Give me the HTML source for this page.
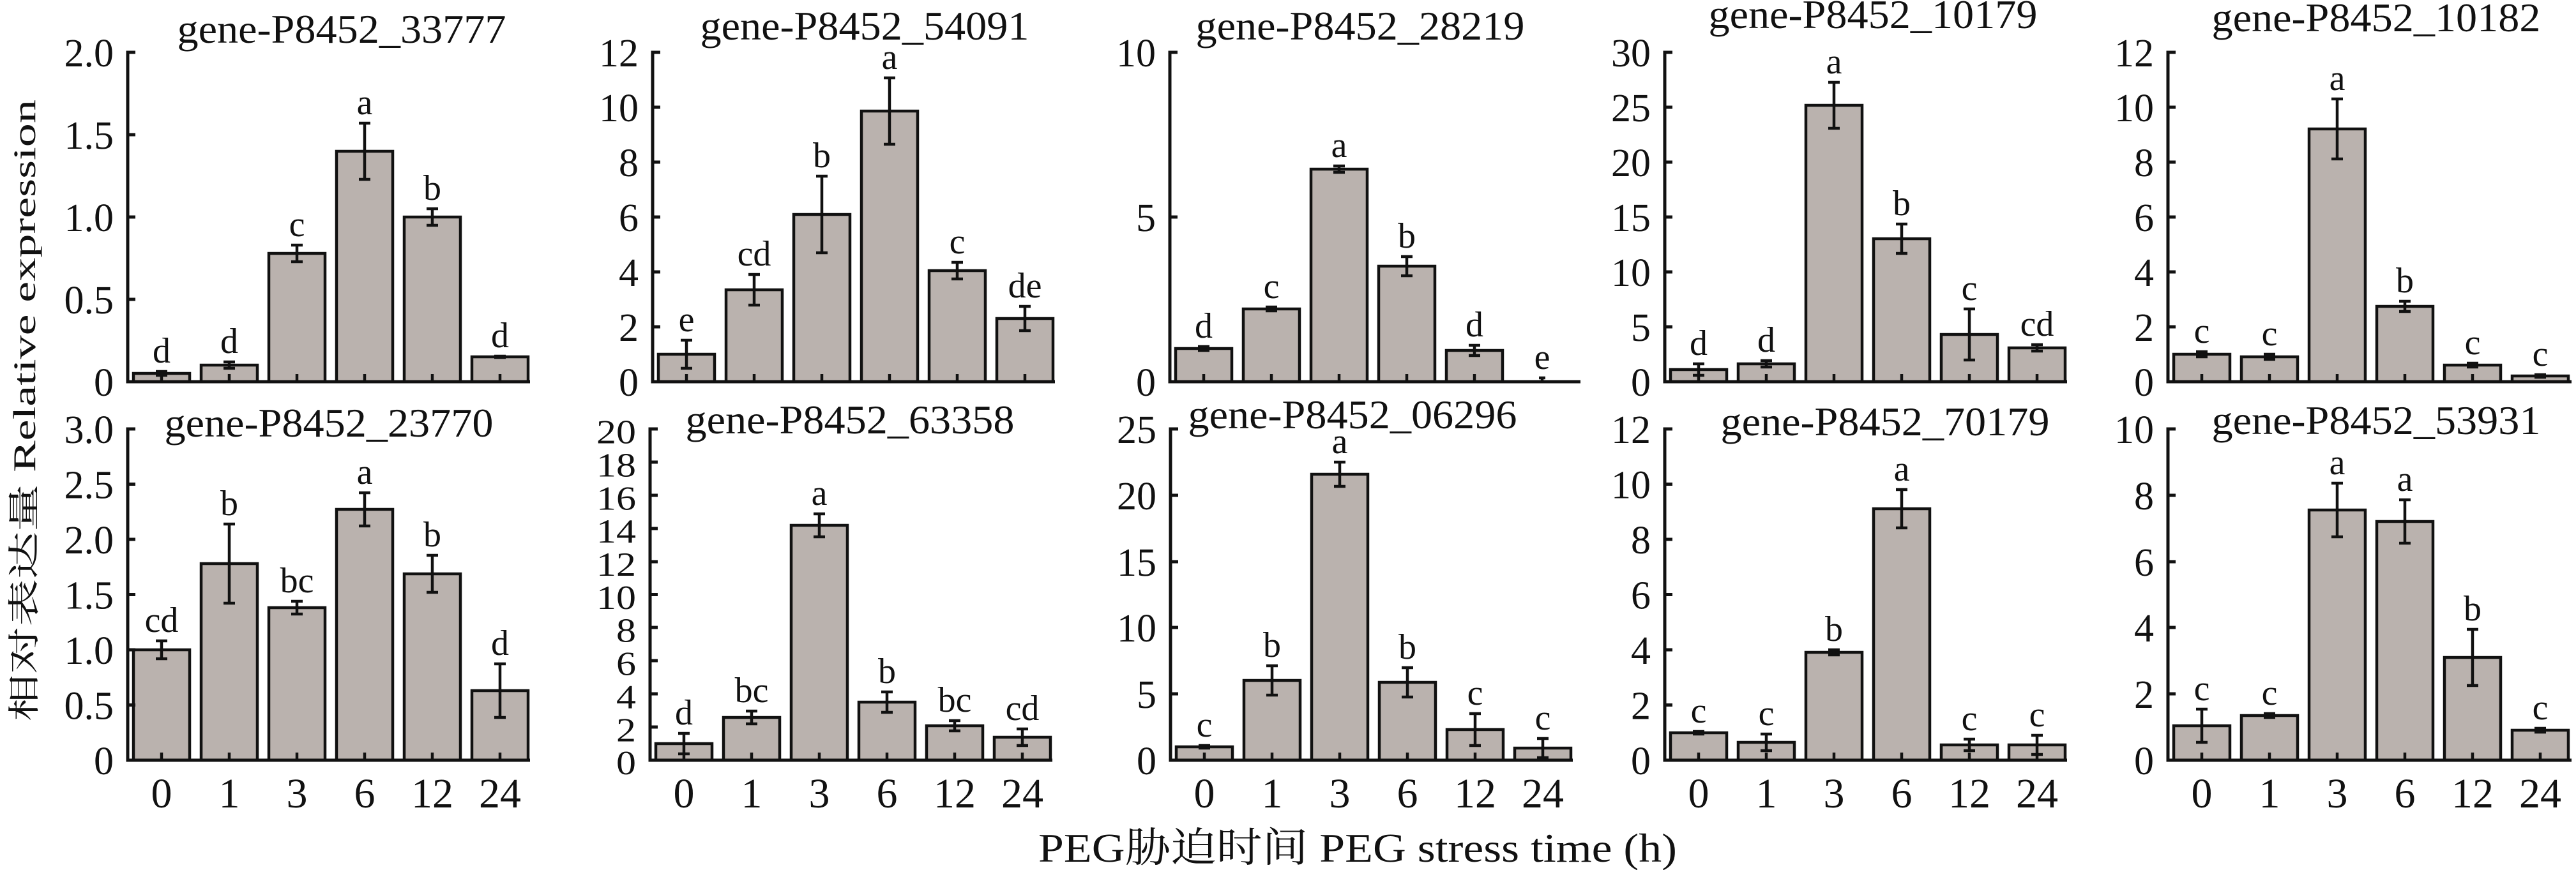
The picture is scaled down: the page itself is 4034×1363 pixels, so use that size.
<!DOCTYPE html>
<html><head><meta charset="utf-8"><style>
html,body{margin:0;padding:0;background:#fff;}
svg{display:block;}
text{font-family:"Liberation Serif","Noto Serif CJK SC","Noto Sans CJK SC",serif;fill:#111;}
.t{font-size:62px;text-anchor:end;}
.x{font-size:66px;text-anchor:middle;}
.l{font-size:56px;text-anchor:middle;}
.ti{font-size:64px;text-anchor:middle;}
.ax{fill:none;stroke:#111;stroke-width:5;}
.b rect{fill:#bab2ae;stroke:#111;stroke-width:4.5;}
.e{fill:none;stroke:#111;stroke-width:4.5;}
</style></head><body>
<svg width="4034" height="1363" viewBox="0 0 4034 1363" xmlns="http://www.w3.org/2000/svg">
<text transform="translate(55,1130) rotate(-90)" font-size="50" textLength="974" lengthAdjust="spacingAndGlyphs">相对表达量 Relative expression</text>
<text x="1626" y="1350" font-size="64" textLength="1000" lengthAdjust="spacingAndGlyphs">PEG胁迫时间 PEG stress time (h)</text>

<text class="ti" x="535" y="67" textLength="515" lengthAdjust="spacingAndGlyphs">gene-P8452_33777</text>
<text class="ti" x="1354" y="62" textLength="515" lengthAdjust="spacingAndGlyphs">gene-P8452_54091</text>
<text class="ti" x="2130" y="62" textLength="515" lengthAdjust="spacingAndGlyphs">gene-P8452_28219</text>
<text class="ti" x="2933" y="44" textLength="515" lengthAdjust="spacingAndGlyphs">gene-P8452_10179</text>
<text class="ti" x="3721" y="49" textLength="515" lengthAdjust="spacingAndGlyphs">gene-P8452_10182</text>
<text class="ti" x="515" y="684" textLength="515" lengthAdjust="spacingAndGlyphs">gene-P8452_23770</text>
<text class="ti" x="1331" y="679" textLength="515" lengthAdjust="spacingAndGlyphs">gene-P8452_63358</text>
<text class="ti" x="2118" y="671" textLength="515" lengthAdjust="spacingAndGlyphs">gene-P8452_06296</text>
<text class="ti" x="2952" y="682" textLength="515" lengthAdjust="spacingAndGlyphs">gene-P8452_70179</text>
<text class="ti" x="3721" y="680" textLength="515" lengthAdjust="spacingAndGlyphs">gene-P8452_53931</text>

<!-- P1 -->
<g transform="translate(200,598)">
<g class="b"><rect x="9" y="-13" width="88" height="13"/><rect x="115" y="-26" width="88" height="26"/><rect x="221" y="-201" width="88" height="201"/><rect x="327" y="-361" width="88" height="361"/><rect x="433" y="-258" width="88" height="258"/><rect x="539" y="-39" width="88" height="39"/></g>
<path class="e" d="M44 -16h18M53 -16V-10M44 -10h18 M150 -31h18M159 -31V-21M150 -21h18 M256 -214h18M265 -214V-188M256 -188h18 M362 -405h18M371 -405V-317M362 -317h18 M468 -271h18M477 -271V-245M468 -245h18 M574 -40h18M574 -38h18 M53 0v-12M159 0v-12M265 0v-12M371 0v-12M477 0v-12M583 0v-12"/>
<text class="l" x="53" y="-30">d</text><text class="l" x="159" y="-45">d</text><text class="l" x="265" y="-228">c</text><text class="l" x="371" y="-419">a</text><text class="l" x="477" y="-285">b</text><text class="l" x="583" y="-54">d</text>
<path class="ax" d="M12 -516H0V0H630 M0 -387h12M0 -258h12M0 -129h12"/>
<text class="t" x="-22" y="22">0</text><text class="t" x="-22" y="-107">0.5</text><text class="t" x="-22" y="-236">1.0</text><text class="t" x="-22" y="-365">1.5</text><text class="t" x="-22" y="-494">2.0</text>
</g>

<!-- P2 -->
<g transform="translate(1022,598)">
<g class="b"><rect x="9" y="-43" width="88" height="43"/><rect x="115" y="-144" width="88" height="144"/><rect x="221" y="-262" width="88" height="262"/><rect x="327" y="-424" width="88" height="424"/><rect x="433" y="-174" width="88" height="174"/><rect x="539" y="-99" width="88" height="99"/></g>
<path class="e" d="M44 -65h18M53 -65V-21M44 -21h18 M150 -168h18M159 -168V-120M150 -120h18 M256 -322h18M265 -322V-202M256 -202h18 M362 -476h18M371 -476V-372M362 -372h18 M468 -187h18M477 -187V-161M468 -161h18 M574 -118h18M583 -118V-80M574 -80h18 M53 0v-12M159 0v-12M265 0v-12M371 0v-12M477 0v-12M583 0v-12"/>
<text class="l" x="53" y="-79">e</text><text class="l" x="159" y="-182">cd</text><text class="l" x="265" y="-336">b</text><text class="l" x="371" y="-490">a</text><text class="l" x="477" y="-201">c</text><text class="l" x="583" y="-132">de</text>
<path class="ax" d="M12 -516H0V0H630 M0 -430h12M0 -344h12M0 -258h12M0 -172h12M0 -86h12"/>
<text class="t" x="-22" y="22">0</text><text class="t" x="-22" y="-64">2</text><text class="t" x="-22" y="-150">4</text><text class="t" x="-22" y="-236">6</text><text class="t" x="-22" y="-322">8</text><text class="t" x="-22" y="-408">10</text><text class="t" x="-22" y="-494">12</text>
</g>

<!-- P3 -->
<g transform="translate(1832,598)">
<g class="b"><rect x="9" y="-52" width="88" height="52"/><rect x="115" y="-114" width="88" height="114"/><rect x="221" y="-333" width="88" height="333"/><rect x="327" y="-181" width="88" height="181"/><rect x="433" y="-49" width="88" height="49"/></g>
<path class="e" d="M44 -55h18M44 -49h18 M150 -117h18M150 -111h18 M256 -338h18M265 -338V-328M256 -328h18 M362 -196h18M371 -196V-166M362 -166h18 M468 -57h18M477 -57V-41M468 -41h18 M578 -6h10M583 -6V0 M53 0v-12M159 0v-12M265 0v-12M371 0v-12M477 0v-12"/>
<text class="l" x="53" y="-69">d</text><text class="l" x="159" y="-131">c</text><text class="l" x="265" y="-352">a</text><text class="l" x="371" y="-210">b</text><text class="l" x="477" y="-71">d</text><text class="l" x="583" y="-20">e</text>
<path class="ax" d="M12 -516H0V0H643 M0 -258h12"/>
<text class="t" x="-22" y="22">0</text><text class="t" x="-22" y="-236">5</text><text class="t" x="-22" y="-494">10</text>
</g>

<!-- P4 -->
<g transform="translate(2607,598)">
<g class="b"><rect x="9" y="-19" width="88" height="19"/><rect x="115" y="-28" width="88" height="28"/><rect x="221" y="-433" width="88" height="433"/><rect x="327" y="-224" width="88" height="224"/><rect x="433" y="-74" width="88" height="74"/><rect x="539" y="-53" width="88" height="53"/></g>
<path class="e" d="M44 -28h18M53 -28V-10M44 -10h18 M150 -33h18M159 -33V-23M150 -23h18 M256 -469h18M265 -469V-397M256 -397h18 M362 -247h18M371 -247V-201M362 -201h18 M468 -114h18M477 -114V-34M468 -34h18 M574 -58h18M583 -58V-48M574 -48h18 M53 0v-12M159 0v-12M265 0v-12M371 0v-12M477 0v-12M583 0v-12"/>
<text class="l" x="53" y="-42">d</text><text class="l" x="159" y="-47">d</text><text class="l" x="265" y="-483">a</text><text class="l" x="371" y="-261">b</text><text class="l" x="477" y="-128">c</text><text class="l" x="583" y="-72">cd</text>
<path class="ax" d="M12 -516H0V0H630 M0 -430h12M0 -344h12M0 -258h12M0 -172h12M0 -86h12"/>
<text class="t" x="-22" y="22">0</text><text class="t" x="-22" y="-64">5</text><text class="t" x="-22" y="-150">10</text><text class="t" x="-22" y="-236">15</text><text class="t" x="-22" y="-322">20</text><text class="t" x="-22" y="-408">25</text><text class="t" x="-22" y="-494">30</text>
</g>

<!-- P5 -->
<g transform="translate(3395,598)">
<g class="b"><rect x="9" y="-43" width="88" height="43"/><rect x="115" y="-39" width="88" height="39"/><rect x="221" y="-396" width="88" height="396"/><rect x="327" y="-118" width="88" height="118"/><rect x="433" y="-26" width="88" height="26"/><rect x="539" y="-9" width="88" height="9"/></g>
<path class="e" d="M44 -47h18M53 -47V-39M44 -39h18 M150 -43h18M159 -43V-35M150 -35h18 M256 -443h18M265 -443V-349M256 -349h18 M362 -126h18M371 -126V-110M362 -110h18 M468 -29h18M468 -23h18 M574 -11h18M574 -7h18 M53 0v-12M159 0v-12M265 0v-12M371 0v-12M477 0v-12"/>
<text class="l" x="53" y="-61">c</text><text class="l" x="159" y="-57">c</text><text class="l" x="265" y="-457">a</text><text class="l" x="371" y="-140">b</text><text class="l" x="477" y="-43">c</text><text class="l" x="583" y="-25">c</text>
<path class="ax" d="M12 -516H0V0H632 M0 -430h12M0 -344h12M0 -258h12M0 -172h12M0 -86h12"/>
<text class="t" x="-22" y="22">0</text><text class="t" x="-22" y="-64">2</text><text class="t" x="-22" y="-150">4</text><text class="t" x="-22" y="-236">6</text><text class="t" x="-22" y="-322">8</text><text class="t" x="-22" y="-408">10</text><text class="t" x="-22" y="-494">12</text>
</g>

<!-- P6 -->
<g transform="translate(200,1191)">
<g class="b"><rect x="9" y="-173" width="88" height="173"/><rect x="115" y="-308" width="88" height="308"/><rect x="221" y="-239" width="88" height="239"/><rect x="327" y="-393" width="88" height="393"/><rect x="433" y="-292" width="88" height="292"/><rect x="539" y="-109" width="88" height="109"/></g>
<path class="e" d="M44 -187h18M53 -187V-159M44 -159h18 M150 -370h18M159 -370V-246M150 -246h18 M256 -249h18M265 -249V-229M256 -229h18 M362 -419h18M371 -419V-367M362 -367h18 M468 -321h18M477 -321V-263M468 -263h18 M574 -151h18M583 -151V-67M574 -67h18 M53 0v-12M159 0v-12M265 0v-12M371 0v-12M477 0v-12M583 0v-12"/>
<text class="l" x="53" y="-201">cd</text><text class="l" x="159" y="-384">b</text><text class="l" x="265" y="-263">bc</text><text class="l" x="371" y="-433">a</text><text class="l" x="477" y="-335">b</text><text class="l" x="583" y="-165">d</text>
<path class="ax" d="M12 -519H0V0H630 M0 -432.5h12M0 -346h12M0 -259.5h12M0 -173h12M0 -86.5h12"/>
<text class="t" x="-22" y="22">0</text><text class="t" x="-22" y="-64.5">0.5</text><text class="t" x="-22" y="-151">1.0</text><text class="t" x="-22" y="-237.5">1.5</text><text class="t" x="-22" y="-324">2.0</text><text class="t" x="-22" y="-410.5">2.5</text><text class="t" x="-22" y="-497">3.0</text>
<text class="x" x="53" y="74">0</text><text class="x" x="159" y="74">1</text><text class="x" x="265" y="74">3</text><text class="x" x="371" y="74">6</text><text class="x" x="477" y="74">12</text><text class="x" x="583" y="74">24</text>
</g>

<!-- P7 -->
<g transform="translate(1018,1191)">
<g class="b"><rect x="9" y="-26" width="88" height="26"/><rect x="115" y="-67" width="88" height="67"/><rect x="221" y="-368" width="88" height="368"/><rect x="327" y="-91" width="88" height="91"/><rect x="433" y="-54" width="88" height="54"/><rect x="539" y="-36" width="88" height="36"/></g>
<path class="e" d="M44 -42h18M53 -42V-10M44 -10h18 M150 -77h18M159 -77V-57M150 -57h18 M256 -386h18M265 -386V-350M256 -350h18 M362 -107h18M371 -107V-75M362 -75h18 M468 -62h18M477 -62V-46M468 -46h18 M574 -49h18M583 -49V-23M574 -23h18 M53 0v-12M159 0v-12M265 0v-12M371 0v-12M477 0v-12M583 0v-12"/>
<text class="l" x="53" y="-56">d</text><text class="l" x="159" y="-91">bc</text><text class="l" x="265" y="-400">a</text><text class="l" x="371" y="-121">b</text><text class="l" x="477" y="-76">bc</text><text class="l" x="583" y="-63">cd</text>
<path class="ax" d="M12 -519H0V0H630 M0 -467h12M0 -415h12M0 -363h12M0 -311h12M0 -259.5h12M0 -208h12M0 -156h12M0 -104h12M0 -52h12"/>
<g transform="scale(1,0.85)"><text class="t" x="-22" y="26">0</text><text class="t" x="-22" y="-35">2</text><text class="t" x="-22" y="-96">4</text><text class="t" x="-22" y="-157">6</text><text class="t" x="-22" y="-218">8</text><text class="t" x="-22" y="-279">10</text><text class="t" x="-22" y="-340">12</text><text class="t" x="-22" y="-401">14</text><text class="t" x="-22" y="-462">16</text><text class="t" x="-22" y="-523">18</text><text class="t" x="-22" y="-584">20</text></g>
<text class="x" x="53" y="74">0</text><text class="x" x="159" y="74">1</text><text class="x" x="265" y="74">3</text><text class="x" x="371" y="74">6</text><text class="x" x="477" y="74">12</text><text class="x" x="583" y="74">24</text>
</g>

<!-- P8 -->
<g transform="translate(1833,1191)">
<g class="b"><rect x="9" y="-21" width="88" height="21"/><rect x="115" y="-125" width="88" height="125"/><rect x="221" y="-448" width="88" height="448"/><rect x="327" y="-122" width="88" height="122"/><rect x="433" y="-48" width="88" height="48"/><rect x="539" y="-19" width="88" height="19"/></g>
<path class="e" d="M44 -23h18M44 -19h18 M150 -148h18M159 -148V-102M150 -102h18 M256 -467h18M265 -467V-429M256 -429h18 M362 -145h18M371 -145V-99M362 -99h18 M468 -73h18M477 -73V-23M468 -23h18 M574 -34h18M583 -34V-4M574 -4h18 M53 0v-12M159 0v-12M265 0v-12M371 0v-12M477 0v-12M583 0v-12"/>
<text class="l" x="53" y="-37">c</text><text class="l" x="159" y="-162">b</text><text class="l" x="265" y="-481">a</text><text class="l" x="371" y="-159">b</text><text class="l" x="477" y="-87">c</text><text class="l" x="583" y="-48">c</text>
<path class="ax" d="M12 -519H0V0H630 M0 -415h12M0 -311h12M0 -208h12M0 -104h12"/>
<text class="t" x="-22" y="22">0</text><text class="t" x="-22" y="-82">5</text><text class="t" x="-22" y="-186">10</text><text class="t" x="-22" y="-289">15</text><text class="t" x="-22" y="-393">20</text><text class="t" x="-22" y="-497">25</text>
<text class="x" x="53" y="74">0</text><text class="x" x="159" y="74">1</text><text class="x" x="265" y="74">3</text><text class="x" x="371" y="74">6</text><text class="x" x="477" y="74">12</text><text class="x" x="583" y="74">24</text>
</g>

<!-- P9 -->
<g transform="translate(2607,1191)">
<g class="b"><rect x="9" y="-43" width="88" height="43"/><rect x="115" y="-28" width="88" height="28"/><rect x="221" y="-169" width="88" height="169"/><rect x="327" y="-394" width="88" height="394"/><rect x="433" y="-24" width="88" height="24"/><rect x="539" y="-24" width="88" height="24"/></g>
<path class="e" d="M44 -45h18M44 -41h18 M150 -41h18M159 -41V-15M150 -15h18 M256 -173h18M265 -173V-165M256 -165h18 M362 -424h18M371 -424V-364M362 -364h18 M468 -33h18M477 -33V-15M468 -15h18 M574 -39h18M583 -39V-9M574 -9h18 M53 0v-12M159 0v-12M265 0v-12M371 0v-12M477 0v-12M583 0v-12"/>
<text class="l" x="53" y="-59">c</text><text class="l" x="159" y="-55">c</text><text class="l" x="265" y="-187">b</text><text class="l" x="371" y="-438">a</text><text class="l" x="477" y="-47">c</text><text class="l" x="583" y="-53">c</text>
<path class="ax" d="M12 -519H0V0H630 M0 -432.5h12M0 -346h12M0 -259.5h12M0 -173h12M0 -86.5h12"/>
<text class="t" x="-22" y="22">0</text><text class="t" x="-22" y="-64.5">2</text><text class="t" x="-22" y="-151">4</text><text class="t" x="-22" y="-237.5">6</text><text class="t" x="-22" y="-324">8</text><text class="t" x="-22" y="-410.5">10</text><text class="t" x="-22" y="-497">12</text>
<text class="x" x="53" y="74">0</text><text class="x" x="159" y="74">1</text><text class="x" x="265" y="74">3</text><text class="x" x="371" y="74">6</text><text class="x" x="477" y="74">12</text><text class="x" x="583" y="74">24</text>
</g>

<!-- P10 -->
<g transform="translate(3395,1191)">
<g class="b"><rect x="9" y="-54" width="88" height="54"/><rect x="115" y="-70" width="88" height="70"/><rect x="221" y="-392" width="88" height="392"/><rect x="327" y="-374" width="88" height="374"/><rect x="433" y="-161" width="88" height="161"/><rect x="539" y="-47" width="88" height="47"/></g>
<path class="e" d="M44 -80h18M53 -80V-28M44 -28h18 M150 -73h18M150 -67h18 M256 -434h18M265 -434V-350M256 -350h18 M362 -408h18M371 -408V-340M362 -340h18 M468 -205h18M477 -205V-117M468 -117h18 M574 -50h18M574 -44h18 M53 0v-12M159 0v-12M265 0v-12M371 0v-12M477 0v-12M583 0v-12"/>
<text class="l" x="53" y="-94">c</text><text class="l" x="159" y="-87">c</text><text class="l" x="265" y="-448">a</text><text class="l" x="371" y="-422">a</text><text class="l" x="477" y="-219">b</text><text class="l" x="583" y="-64">c</text>
<path class="ax" d="M12 -519H0V0H632 M0 -415h12M0 -311h12M0 -208h12M0 -104h12"/>
<text class="t" x="-22" y="22">0</text><text class="t" x="-22" y="-82">2</text><text class="t" x="-22" y="-186">4</text><text class="t" x="-22" y="-289">6</text><text class="t" x="-22" y="-393">8</text><text class="t" x="-22" y="-497">10</text>
<text class="x" x="53" y="74">0</text><text class="x" x="159" y="74">1</text><text class="x" x="265" y="74">3</text><text class="x" x="371" y="74">6</text><text class="x" x="477" y="74">12</text><text class="x" x="583" y="74">24</text>
</g>
</svg>
</body></html>
